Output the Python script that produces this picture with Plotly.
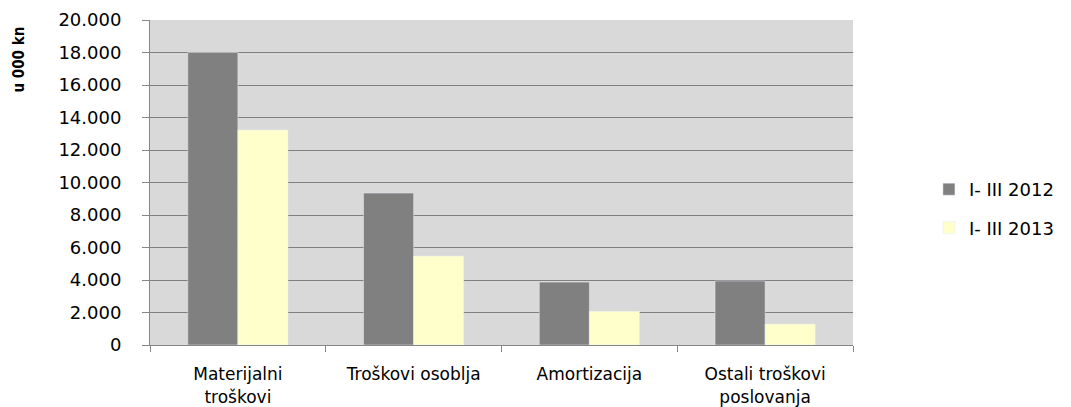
import plotly.graph_objects as go

categories = ["Materijalni<br>troškovi", "Troškovi osoblja", "Amortizacija", "Ostali troškovi<br>poslovanja"]
series_names = ["I- III 2012", "I- III 2013"]
values_2012 = [18000, 9350, 3870, 3940]
values_2013 = [13230, 5470, 2070, 1290]
y_ticks = [0, 2000, 4000, 6000, 8000, 10000, 12000, 14000, 16000, 18000, 20000]

fig = go.Figure()
fig.add_trace(go.Bar(x=categories, y=values_2012, name=series_names[0],
                     marker_color="#808080", legendgroup="a"))
fig.add_trace(go.Bar(x=categories, y=values_2013, name=series_names[1],
                     marker_color="#ffffcc", legendgroup="b"))

# the page puts the figure 8px in from the top-left corner
fig.update_layout(
    width=1063, height=399,
    margin=dict(l=142, r=216, t=12, b=62),
    paper_bgcolor="white",
    plot_bgcolor="#d9d9d9",
    barmode="group",
    bargap=0.43,
    bargroupgap=0,
    separators=",.",
    font=dict(family="DejaVu Sans", size=17, color="black"),
    legend=dict(x=1.108, y=0.42, xanchor="left", yanchor="middle",
                font=dict(size=18), tracegroupgap=12, bgcolor="rgba(0,0,0,0)"),
)

# axis title sits near the top in the original, so use an annotation
fig.add_annotation(text="u 000 kn", textangle=-90, showarrow=False,
                   xref="paper", yref="paper", x=-0.187, y=0.877,
                   xanchor="center", yanchor="middle",
                   font=dict(family="DejaVu Sans Condensed", size=15, weight="bold"))

fig.update_xaxes(
    automargin=False,
    showline=True, linecolor="#868686", linewidth=1,
    ticks="outside", tickson="boundaries", ticklen=6, tickcolor="#868686",
    ticklabelstandoff=14,
    tickfont=dict(size=17),
    showgrid=False,
)
fig.update_yaxes(
    automargin=False,
    range=[0, 20000], tickvals=y_ticks, tickformat=",",
    showline=True, linecolor="#868686", linewidth=1,
    ticks="outside", ticklen=7, tickcolor="#868686",
    ticklabelstandoff=17,
    tickfont=dict(size=18),
    showgrid=True, gridcolor="#7f7f7f", gridwidth=1,
    zeroline=False,
)

fig.write_html("out.html")
